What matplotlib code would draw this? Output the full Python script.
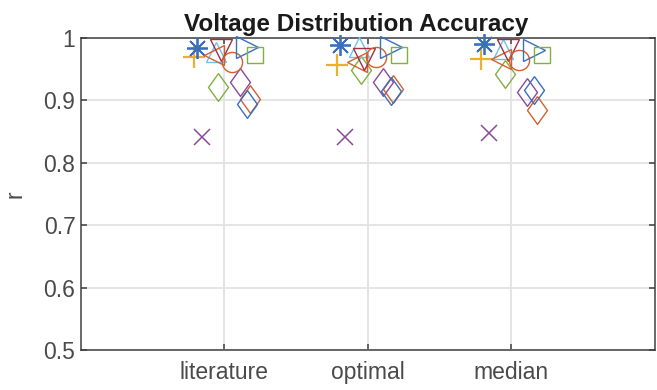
import matplotlib
matplotlib.use("Agg")
import matplotlib.pyplot as plt

plt.rcParams['font.family'] = ['Liberation Sans', 'DejaVu Sans']

# categories on the x axis
methods = ["literature", "optimal", "median"]

# r values per series, one per method
r_cross = [0.842, 0.842, 0.847]
r_plus = [0.970, 0.957, 0.967]
r_star = [0.984, 0.989, 0.991]
r_tri_up = [0.978, 0.986, 0.983]
r_tri_down = [0.981, 0.967, 0.981]
r_tri_left = [0.973, 0.962, 0.967]
r_circle = [0.962, 0.970, 0.965]
r_tri_right = [0.986, 0.986, 0.981]
r_square = [0.972, 0.972, 0.973]
r_diam_green = [0.922, 0.949, 0.943]
r_diam_purple = [0.930, 0.930, 0.914]
r_diam_red = [0.902, 0.918, 0.885]
r_diam_blue = [0.894, 0.915, 0.917]

blue = '#3a6fc0'
orange = '#d4602e'
yellow = '#e8b32c'
purple = '#8a4a9a'
green = '#80b040'
lblue = '#6ec2ee'
dred = '#a33040'

diamond = [(0, 1), (0.72, 0), (0, -1), (-0.72, 0), (0, 1)]

# (values, marker, colour, size, edge width, x offset)
series = [
    (r_cross, 'x', purple, 12, 1.1, -0.16),
    (r_plus, '+', yellow, 16, 1.6, -0.216),
    (r_star, (8, 2, 0), blue, 15, 1.3, -0.195),
    (r_diam_green, diamond, green, 20, 1.0, -0.048),
    (r_diam_purple, diamond, purple, 20, 1.0, 0.105),
    (r_diam_red, diamond, orange, 20, 1.0, 0.175),
    (r_diam_blue, diamond, blue, 20, 1.0, 0.16),
    (r_tri_up, '^', lblue, 15, 1.0, -0.06),
    (r_tri_left, '<', orange, 15, 1.0, -0.075),
    (r_tri_down, 'v', dred, 16, 1.0, -0.025),
    (r_circle, 'o', orange, 14.5, 1.0, 0.055),
    (r_tri_right, '>', blue, 16, 1.0, 0.16),
    (r_square, 's', green, 11.5, 1.0, 0.215),
]

fig = plt.figure(figsize=(6.57, 3.9), dpi=100)
ax = fig.add_axes([81 / 657, 40 / 390, 574 / 657, 312 / 390])

xs = [1, 2, 3]
for vals, mk, col, ms, mew, off in series:
    ax.plot([x + off for x in xs], vals, linestyle='none', marker=mk,
            markersize=ms, markerfacecolor='none', markeredgecolor=col,
            markeredgewidth=mew, clip_on=False, zorder=3)

ax.set_xlim(0, 4)
ax.set_ylim(0.5, 1)
ax.set_xticks(xs)
ax.set_xticklabels(methods)
yt = [0.5, 0.6, 0.7, 0.8, 0.9, 1.0]
ax.set_yticks(yt)
ax.set_yticklabels(['0.5', '0.6', '0.7', '0.8', '0.9', '1'])

ax.grid(True, color='#e3e3e3', linewidth=1.3, zorder=0)
ax.set_axisbelow(True)
for s in ax.spines.values():
    s.set_color('#404040')
    s.set_linewidth(1.1)
ax.tick_params(direction='in', length=4, width=1.1, color='#404040',
               labelsize=16.5, labelcolor='#4a4a4a', top=True, right=True)
ax.tick_params(axis='x', pad=8)
ax.tick_params(axis='y', pad=4)

ax.set_ylabel('r', fontsize=16.5, color='#4a4a4a', labelpad=12)
ax.set_title('Voltage Distribution Accuracy', fontsize=17.5, fontweight='bold',
             color='#1a1a1a', x=(356.5 - 81) / 574, pad=5)

fig.savefig('out.png', dpi=100)
